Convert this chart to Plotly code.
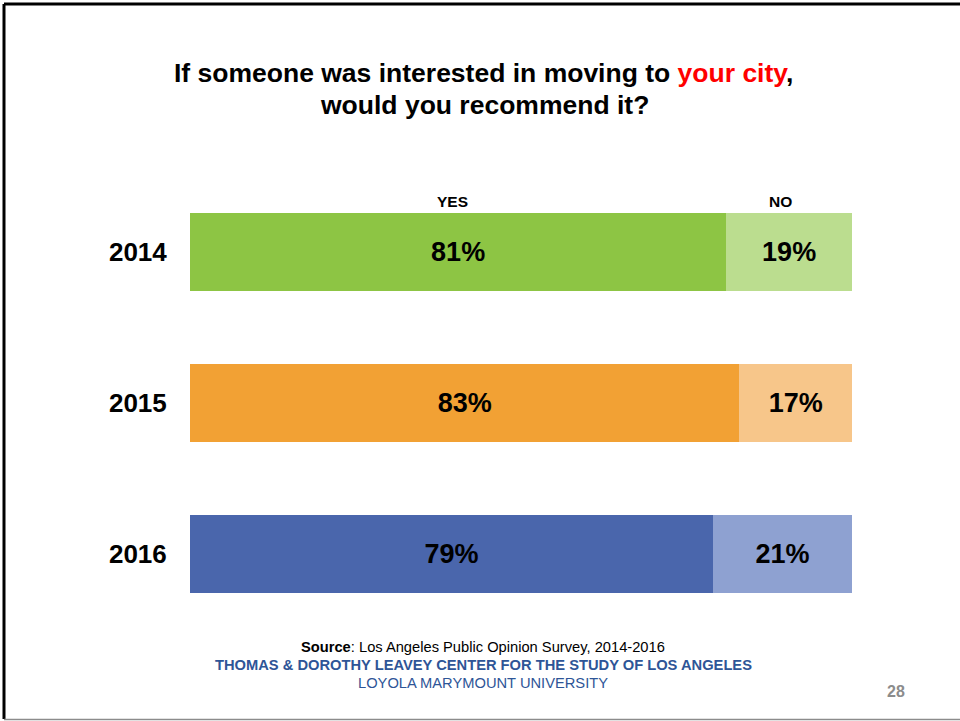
import plotly.graph_objects as go

years = ["2014", "2015", "2016"]
yes_vals = [81, 83, 79]
no_vals = [19, 17, 21]
yes_colors = ["#8DC544", "#F2A134", "#4A66AC"]
no_colors = ["#BBDD8F", "#F7C68A", "#8EA1D1"]

W, H = 960, 721
FONT = "Liberation Sans, Arial, sans-serif"

def px(x):
    return x / W

def py(y):
    return 1 - y / H

fig = go.Figure()
fig.add_trace(go.Bar(
    y=years, x=yes_vals, orientation="h", name="YES",
    marker=dict(color=yes_colors, line=dict(width=0)),
    text=[f"{v}%" for v in yes_vals], textposition="inside",
    insidetextanchor="middle", textangle=0,
    textfont=dict(family=FONT, size=27, color="black", weight="bold"),
    width=0.52, hoverinfo="skip",
))
fig.add_trace(go.Bar(
    y=years, x=no_vals, orientation="h", name="NO",
    marker=dict(color=no_colors, line=dict(width=0)),
    text=[f"{v}%" for v in no_vals], textposition="inside",
    insidetextanchor="middle", textangle=0,
    textfont=dict(family=FONT, size=27, color="black", weight="bold"),
    width=0.52, hoverinfo="skip",
))

fig.update_layout(
    width=W, height=H, barmode="stack", showlegend=False,
    margin=dict(l=0, r=0, t=0, b=0),
    paper_bgcolor="white", plot_bgcolor="white",
    font=dict(family=FONT, color="black"),
    uniformtext=dict(mode=False),
    xaxis=dict(domain=[px(190), px(852)], range=[0, 100], visible=False, fixedrange=True),
    yaxis=dict(domain=[py(629.5), py(176.5)], range=[2.5, -0.5], type="category",
               showgrid=False, zeroline=False, showline=False, fixedrange=True,
               ticks="outside", ticklen=17, tickcolor="white",
               tickfont=dict(family=FONT, size=26, color="black", weight="bold")),
)

annotations = [
    dict(x=px(483.5), y=py(73), text="If someone was interested in moving to <span style='color:#FF0000'>your city</span>,",
         font=dict(family=FONT, size=26.5, color="black", weight="bold")),
    dict(x=px(484.5), y=py(105), text="would you recommend it?",
         font=dict(family=FONT, size=26.5, color="black", weight="bold")),
    dict(x=px(452.5), y=py(201), text="YES", font=dict(family=FONT, size=15.5, color="black", weight="bold")),
    dict(x=px(780), y=py(201), text="NO", font=dict(family=FONT, size=15.5, color="black", weight="bold")),
    dict(x=px(483), y=py(647), text="<b>Source</b>: Los Angeles Public Opinion Survey, 2014-2016",
         font=dict(family=FONT, size=14.7, color="black")),
    dict(x=px(483.5), y=py(665), text="THOMAS &amp; DOROTHY LEAVEY CENTER FOR THE STUDY OF LOS ANGELES",
         font=dict(family=FONT, size=14.7, color="#2E5597", weight="bold")),
    dict(x=px(483), y=py(683), text="LOYOLA MARYMOUNT UNIVERSITY",
         font=dict(family=FONT, size=14.7, color="#2E5597")),
    dict(x=px(895.5), y=py(691), text="28", font=dict(family=FONT, size=16, color="#8C8C8C", weight="bold")),
]
for a in annotations:
    a.update(xref="paper", yref="paper", showarrow=False, xanchor="center", yanchor="middle")
fig.update_layout(annotations=annotations)

fig.update_layout(shapes=[
    dict(type="line", xref="paper", yref="paper", x0=px(4), x1=1, y0=py(4), y1=py(4),
         line=dict(color="black", width=3)),
    dict(type="line", xref="paper", yref="paper", x0=px(4), x1=px(4), y0=py(4), y1=py(719),
         line=dict(color="black", width=3)),
    dict(type="line", xref="paper", yref="paper", x0=px(4), x1=1, y0=py(719.5), y1=py(719.5),
         line=dict(color="#8C8C8C", width=1.5)),
])

fig.write_html("out.html", config={"displayModeBar": False, "staticPlot": True},
               post_script="document.body.style.margin='0';document.body.style.padding='0';")
